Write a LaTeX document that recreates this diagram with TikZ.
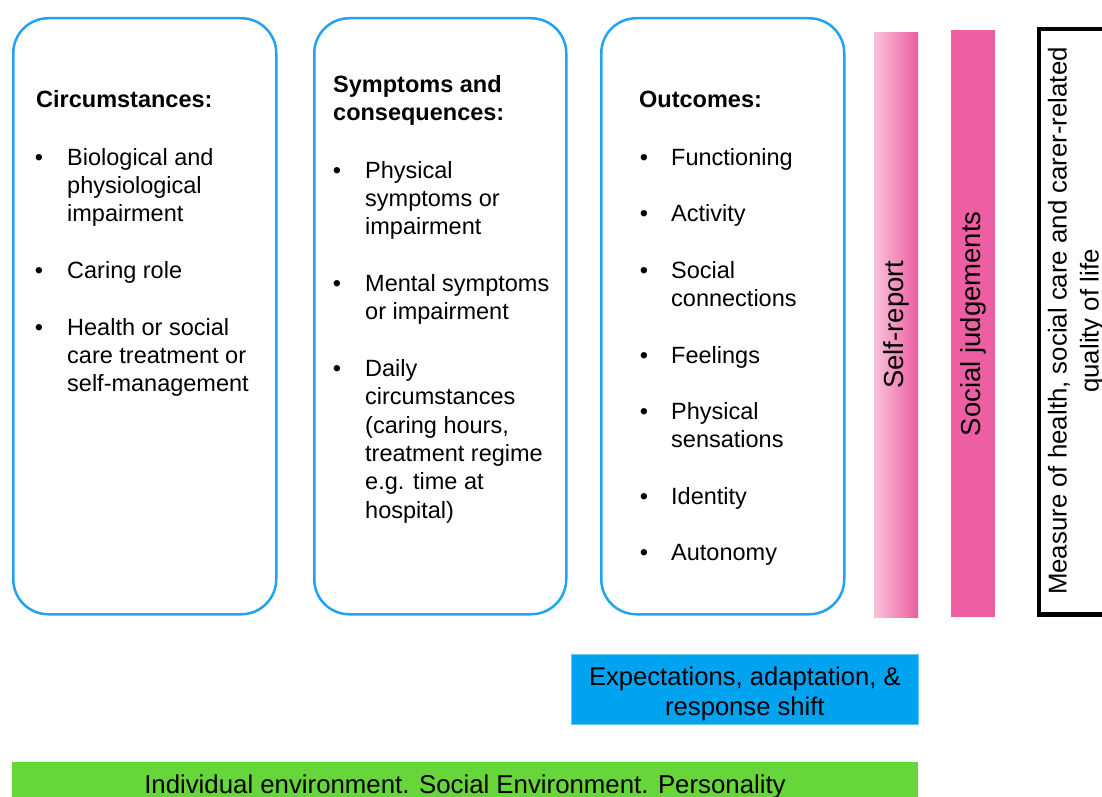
\documentclass[tikz,border=0pt]{standalone}
\usepackage{fontspec}
\setmainfont{Liberation Sans}

\definecolor{boxblue}{RGB}{33,163,245}
\definecolor{pinklight}{RGB}{250,194,218}
\definecolor{pinkdark}{RGB}{236,92,160}
\definecolor{pinksolid}{RGB}{238,94,163}
\definecolor{expblue}{RGB}{0,163,240}
\definecolor{envgreen}{RGB}{102,214,58}

\begin{document}
\begin{tikzpicture}[x=1pt,y=-1pt,
  panel/.style={draw=boxblue, line width=2.5pt, rounded corners=35pt, fill=white,
    anchor=north west, inner sep=0pt},
  bar/.style={anchor=north west, inner sep=0pt, draw=none},
  body/.style={anchor=base west, inner sep=0pt, font=\fontsize{23.5}{28}\selectfont},
  head/.style={anchor=base west, inner sep=0pt, font=\fontsize{23.5}{28}\selectfont\bfseries},
  dot/.style={anchor=base, inner sep=0pt, font=\fontsize{23.5}{28}\selectfont},
  vlabel/.style={rotate=90, inner sep=0pt, font=\fontsize{27.5}{32}\selectfont},
]
\useasboundingbox (0,0) rectangle (1102,797);
\clip (0,0) rectangle (1102,797);

% three rounded panels
\node[panel, minimum width=263pt, minimum height=596pt] (circ) at (12,17) {};
\node[panel, minimum width=252pt, minimum height=596pt] (symp) at (313,17) {};
\node[panel, minimum width=243pt, minimum height=596pt] (outc) at (600,17) {};

% Circumstances
\node[head] (circH) at (36,108) {Circumstances:};
\node[dot] (cb1) at (39,165) {•};
\node[body] (c1a) at (67,165) {Biological and};
\node[body] (c1b) at (67,193) {physiological};
\node[body] (c1c) at (67,221) {impairment};
\node[dot] (cb2) at (39,278) {•};
\node[body] (c2a) at (67,278) {Caring role};
\node[dot] (cb3) at (39,335) {•};
\node[body] (c3a) at (67,335) {Health or social};
\node[body] (c3b) at (67,363) {care treatment or};
\node[body] (c3c) at (67,391) {self-management};

% Symptoms and consequences
\node[head] (sympH1) at (333,93) {Symptoms and};
\node[head] (sympH2) at (333,121) {consequences:};
\node[dot] (sb1) at (337,178) {•};
\node[body] (s1a) at (365,178) {Physical};
\node[body] (s1b) at (365,206) {symptoms or};
\node[body] (s1c) at (365,234) {impairment};
\node[dot] (sb2) at (337,291) {•};
\node[body] (s2a) at (365,291) {Mental symptoms};
\node[body] (s2b) at (365,319) {or impairment};
\node[dot] (sb3) at (337,376) {•};
\node[body] (s3a) at (365,376) {Daily};
\node[body] (s3b) at (365,404) {circumstances};
\node[body] (s3c) at (365,433) {(caring hours,};
\node[body] (s3d) at (365,461) {treatment regime};
\node[body] (s3e) at (365,489) {e.g. time at};
\node[body] (s3f) at (365,518) {hospital)};

% Outcomes
\node[head] (outcH) at (639,108) {Outcomes:};
\node[dot] (ob1) at (644,165) {•};
\node[body] (o1) at (671,165) {Functioning};
\node[dot] (ob2) at (644,221) {•};
\node[body] (o2) at (671,221) {Activity};
\node[dot] (ob3) at (644,278) {•};
\node[body] (o3a) at (671,278) {Social};
\node[body] (o3b) at (671,306) {connections};
\node[dot] (ob4) at (644,363) {•};
\node[body] (o4) at (671,363) {Feelings};
\node[dot] (ob5) at (644,419) {•};
\node[body] (o5a) at (671,419) {Physical};
\node[body] (o5b) at (671,447) {sensations};
\node[dot] (ob6) at (644,504) {•};
\node[body] (o6) at (671,504) {Identity};
\node[dot] (ob7) at (644,560) {•};
\node[body] (o7) at (671,560) {Autonomy};

% vertical bars
\node[bar, minimum width=44pt, minimum height=585pt,
      left color=pinklight, right color=pinkdark] (self) at (874,32) {};
\node[vlabel] (selfL) at (self.center) {Self-report};
\node[bar, minimum width=44pt, minimum height=587pt, fill=pinksolid] (social) at (951,30) {};
\node[vlabel] (socialL) at (social.center) {Social judgements};

% framed measure box: thick outer rule with a thin rule just inside
\node[anchor=north west, inner sep=0pt, draw=black, line width=2.6pt,
      minimum width=80pt, minimum height=587pt] (measure) at (1037,27) {};
\draw[black, line width=1.2pt] ([shift={(3.6pt,-3.6pt)}]measure.north west)
  rectangle ([shift={(-3.6pt,3.6pt)}]measure.south east);
\node[rotate=90, align=center, inner sep=0pt, font=\fontsize{25.8}{32}\selectfont]
  (measureL) at (1076,321) {Measure of health, social care and carer-related\\quality of life};

% bottom bands
\node[bar, fill=expblue, draw=expblue!60!white, line width=0.8pt,
      minimum width=347pt, minimum height=70pt] (expect) at (571,654) {};
\node[align=center, inner sep=0pt, font=\fontsize{25.6}{30}\selectfont]
  (expectL) at ([yshift=-4pt]expect.center) {Expectations, adaptation, \&\\response shift};
\node[bar, fill=envgreen, minimum width=906pt, minimum height=60pt] (env) at (12,762) {};
\node[inner sep=0pt, font=\fontsize{25.8}{30}\selectfont]
  (envL) at (465,787) {Individual environment. Social Environment. Personality};
\end{tikzpicture}
\end{document}
